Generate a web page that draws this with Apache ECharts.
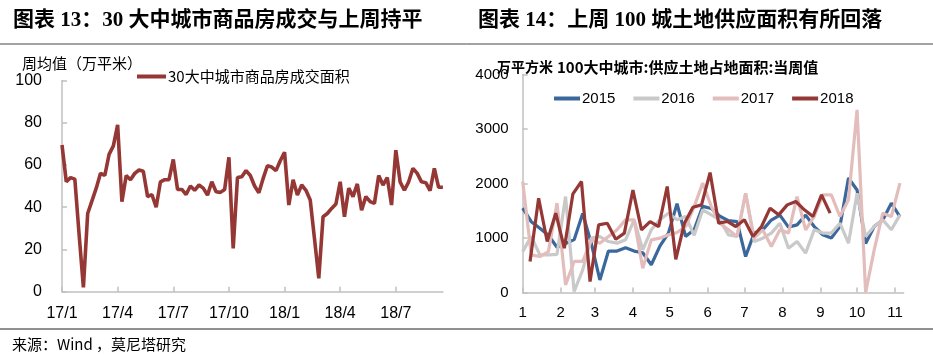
<!DOCTYPE html>
<html><head><meta charset="utf-8">
<script src="https://cdn.jsdelivr.net/npm/echarts@6/dist/echarts.min.js"></script>
<style>html,body{margin:0;padding:0;background:#fff}#c{width:933px;height:361px}</style>
</head><body><div id="c"></div>
<script>
// ---- Left chart: 30大中城市商品房成交面积 (周均值, 万平米), weekly from 17/1 ----
const quarterLabels = ['17/1','17/4','17/7','17/10','18/1','18/4','18/7'];
const area30 = [
  69.4,52,54,53.3,27,2,37,43,49,56,55,65,69,79,42.6,55,53,56,57.6,57,
  45,46,40,52,53,53,62.6,48.4,48.4,46,50,48,50.5,49,45.7,52,47.3,47,48.4,63.6,
  20.5,54,54.4,57.3,55,50,46.8,53.6,59.6,59,57.3,62,66,41,53,45.7,50.5,48,43.4,25,
  6.3,35.5,37,39.4,41.5,52,35.5,49,45,51,38.6,45,42.6,41.8,55,50.5,54,41,67,52,
  48,52,58.4,56,52,51.6,47.8,58.4,49.4,49.4
];
const weekIdx = area30.map((_, i) => i);

// ---- Right chart: 100大中城市 供应土地占地面积 当周值 (万平方米) ----
const monthLabels = ['1','2','3','4','5','6','7','8','9','10','11'];
const monthStartDays = [0,31,59,90,120,151,181,212,243,273,304];
const start2015 = 0, start2016 = 0, start2017 = 0, start2018 = 6;
const y2015 = [1550,1300,1180,1050,830,900,970,1450,900,230,760,760,820,760,730,510,850,1090,1630,1030,
  1150,1580,1540,1400,1320,1300,660,1090,1150,1330,1420,1200,1240,1420,1210,1060,1000,1210,2100,1880,
  900,1210,1330,1640,1390];
const y2016 = [750,1030,690,690,700,1760,18,416,997,1027,935,905,966,1333,783,1150,1333,1455,1333,1394,
  1050,1517,1425,1333,1058,1027,1822,935,997,1090,1272,813,935,722,1150,1090,1090,1272,905,1822,
  1027,1211,1333,1150,1425];
const y2017 = [2036,690,660,750,1640,140,570,570,966,905,1027,1150,1333,1333,446,966,997,1058,1100,1211,
  1578,2006,1578,1272,1150,1027,1822,997,1150,844,1150,1090,1761,1150,1394,1792,1792,1394,1700,3350,
  0,783,1455,1394,2006];
const y2018 = [568,1730,935,1455,813,1810,2036,200,1240,1270,978,1090,1880,1150,1300,1210,1945,610,1270,1565,
  1608,2200,1272,1303,1211,1333,1027,1211,1547,1425,1608,1670,1517,1394,1792,1456];

const RED = '#953735', BLUE = '#3a679c', GRAY = '#c9c9c9', PINK = '#e3bdbc';
const AX = '#c0c0c0';
const NUMF = '"Liberation Sans", "Noto Sans CJK SC", sans-serif';
const CJK = '"Noto Sans CJK SC", sans-serif';
const TITLEF = '"Liberation Serif", "Noto Sans CJK SC", serif';

function pts(start, arr) { return arr.map((v, i) => [start + 7 * i, v]); }

const chart = echarts.init(document.getElementById('c'), null, {renderer: 'canvas'});
chart.setOption({
  animation: false,
  backgroundColor: '#fff',
  grid: [
    {left: 62, top: 80.4, width: 380.9, height: 211.3},
    {left: 522.7, top: 74.5, width: 380.9, height: 218}
  ],
  legend: [
    {data: ['30大中城市商品房成交面积'], left: 132, top: 64, icon: 'rect', itemWidth: 29, itemHeight: 4,
     itemGap: 10, textStyle: {fontSize: 15, color: '#000', fontFamily: CJK, padding: [0,0,0,-3]}},
    {data: ['2015','2016','2017','2018'], left: 549, top: 86, icon: 'rect', itemWidth: 26, itemHeight: 4,
     itemGap: 18, textStyle: {fontSize: 15, color: '#000', fontFamily: NUMF, padding: [0,0,0,-3]}}
  ],
  xAxis: [
    {type: 'category', gridIndex: 0, data: weekIdx, boundaryGap: false,
     axisLine: {lineStyle: {color: AX, width: 1.5}},
     axisTick: {inside: true, length: 5, interval: (i) => i % 13 === 0, lineStyle: {color: AX, width: 1.5}},
     axisLabel: {interval: (i) => i % 13 === 0, formatter: (v, i) => quarterLabels[i / 13] || '',
       fontSize: 16, color: '#000', fontFamily: NUMF, margin: 14},
     splitLine: {show: false}},
    {type: 'value', gridIndex: 1, min: 0, max: 311,
     axisLine: {lineStyle: {color: AX, width: 1.5}},
     axisTick: {inside: true, length: 5, customValues: monthStartDays, lineStyle: {color: AX, width: 1.5}},
     axisLabel: {customValues: monthStartDays, formatter: (v) => monthLabels[monthStartDays.indexOf(v)] || '',
       fontSize: 15, color: '#000', fontFamily: NUMF, margin: 13},
     splitLine: {show: false}}
  ],
  yAxis: [
    {type: 'value', gridIndex: 0, min: 0, max: 100, interval: 20,
     axisLine: {show: true, lineStyle: {color: AX, width: 1.5}},
     axisTick: {show: true, inside: true, length: 5, lineStyle: {color: AX, width: 1.5}},
     axisLabel: {fontSize: 16, color: '#000', fontFamily: NUMF, margin: 20},
     splitLine: {show: false}},
    {type: 'value', gridIndex: 1, min: 0, max: 4000, interval: 1000,
     axisLine: {show: true, lineStyle: {color: AX, width: 1.5}},
     axisTick: {show: true, inside: true, length: 5, lineStyle: {color: AX, width: 1.5}},
     axisLabel: {fontSize: 15, color: '#000', fontFamily: NUMF, margin: 14, formatter: (v) => String(v)},
     splitLine: {show: false}}
  ],
  series: [
    {name: '30大中城市商品房成交面积', type: 'line', xAxisIndex: 0, yAxisIndex: 0, data: area30,
     symbol: 'none', lineStyle: {color: RED, width: 3.6}, itemStyle: {color: RED}},
    {name: '2015', type: 'line', xAxisIndex: 1, yAxisIndex: 1, data: pts(start2015, y2015),
     symbol: 'none', lineStyle: {color: BLUE, width: 3.2}, itemStyle: {color: BLUE}},
    {name: '2016', type: 'line', xAxisIndex: 1, yAxisIndex: 1, data: pts(start2016, y2016),
     symbol: 'none', lineStyle: {color: GRAY, width: 3.2}, itemStyle: {color: GRAY}},
    {name: '2017', type: 'line', xAxisIndex: 1, yAxisIndex: 1, data: pts(start2017, y2017),
     symbol: 'none', lineStyle: {color: PINK, width: 3.2}, itemStyle: {color: PINK}},
    {name: '2018', type: 'line', xAxisIndex: 1, yAxisIndex: 1, data: pts(start2018, y2018),
     symbol: 'none', lineStyle: {color: RED, width: 3.2}, itemStyle: {color: RED}}
  ],
  graphic: [
    {type: 'text', x: 13, y: 21, style: {text: '图表 13：30 大中城市商品房成交与上周持平', fontSize: 21, fontWeight: 'bold',
      fontFamily: TITLEF, fill: '#000', verticalAlign: 'middle'}},
    {type: 'text', x: 478, y: 21, style: {text: '图表 14：上周 100 城土地供应面积有所回落', fontSize: 21, fontWeight: 'bold',
      fontFamily: TITLEF, fill: '#000', verticalAlign: 'middle'}},
    {type: 'line', shape: {x1: 0, y1: 44, x2: 933, y2: 44}, style: {stroke: '#444', lineWidth: 1}},
    {type: 'line', shape: {x1: 0, y1: 329, x2: 933, y2: 329}, style: {stroke: '#222', lineWidth: 1.2}},
    {type: 'text', x: 22, y: 63, style: {text: '周均值（万平米）', fontSize: 15, fontFamily: CJK, fill: '#000', verticalAlign: 'middle'}},
    {type: 'text', x: 497, y: 67, style: {text: '万平方米', fontSize: 14, fontWeight: 'bold', fontFamily: CJK, fill: '#000', verticalAlign: 'middle'}},
    {type: 'text', x: 557, y: 67, style: {text: '100大中城市:供应土地占地面积:当周值', fontSize: 15, fontWeight: 'bold', fontFamily: CJK, fill: '#000', verticalAlign: 'middle'}},
    {type: 'text', x: 12, y: 344, style: {text: '来源：Wind ，莫尼塔研究', fontSize: 15, fontFamily: CJK, fill: '#000', verticalAlign: 'middle'}}
  ]
});
</script></body></html>
